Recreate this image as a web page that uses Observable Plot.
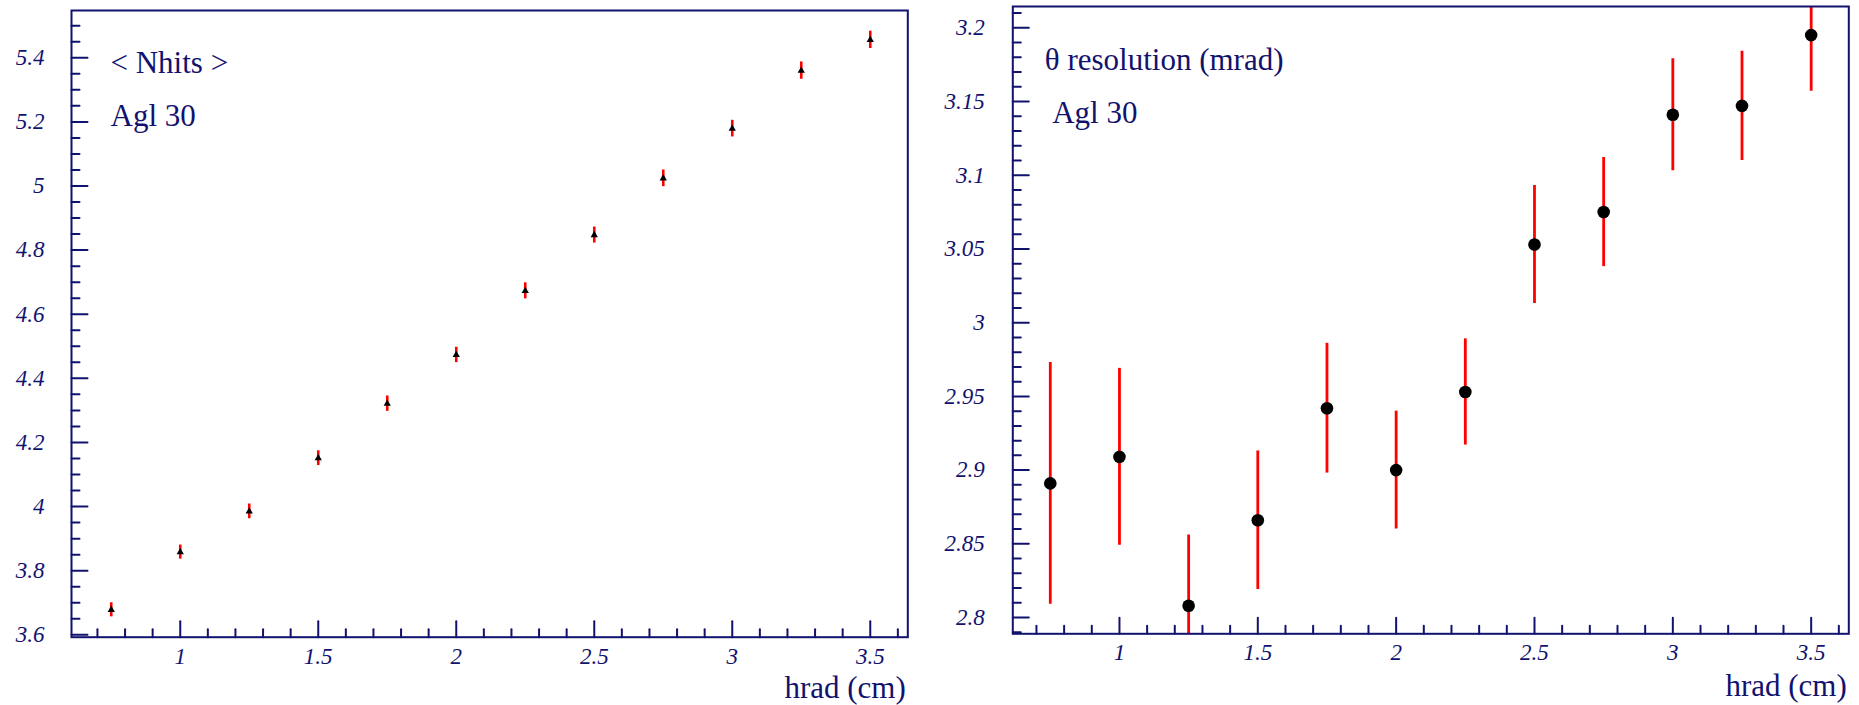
<!DOCTYPE html>
<html>
<head>
<meta charset="utf-8">
<script src="https://cdn.jsdelivr.net/npm/d3@7"></script>
<script src="https://cdn.jsdelivr.net/npm/@observablehq/plot@0.6"></script>
<style>
  html, body { margin: 0; padding: 0; background: #fff; font-family: "Liberation Serif", serif; }
  #wrap { position: relative; width: 1859px; height: 705px; overflow: hidden; }
  #left, #right { position: absolute; top: 0; }
  #left { left: 0; }
  #right { left: 930px; }
  svg.chart text { font-family: "Liberation Serif", serif; white-space: pre; }
</style>
</head>
<body>
<div id="wrap"><div id="left"></div><div id="right"></div></div>
<script>
// ---- data ----
const hrad = [0.75, 1.0, 1.25, 1.5, 1.75, 2.0, 2.25, 2.5, 2.75, 3.0, 3.25, 3.5];
const nhits = [3.678, 3.858, 3.985, 4.151, 4.321, 4.473, 4.673, 4.847, 5.024, 5.179, 5.360, 5.456];
const nhitsErr = [0.022, 0.022, 0.023, 0.023, 0.024, 0.024, 0.025, 0.025, 0.026, 0.026, 0.027, 0.027];
const thetaRes = [2.891, 2.909, 2.808, 2.866, 2.942, 2.900, 2.953, 3.053, 3.075, 3.141, 3.147, 3.195];
const thetaErr = [0.082, 0.060, 0.048, 0.047, 0.044, 0.040, 0.036, 0.040, 0.037, 0.038, 0.037, 0.038];

const xTicks = [1, 1.5, 2, 2.5, 3, 3.5];
const xTickLabels = ["1", "1.5", "2", "2.5", "3", "3.5"];
const yTicksLeft = [3.6, 3.8, 4.0, 4.2, 4.4, 4.6, 4.8, 5.0, 5.2, 5.4];
const yTickLabelsLeft = ["3.6", "3.8", "4", "4.2", "4.4", "4.6", "4.8", "5", "5.2", "5.4"];
const yTicksRight = [2.8, 2.85, 2.9, 2.95, 3.0, 3.05, 3.1, 3.15, 3.2];
const yTickLabelsRight = ["2.8", "2.85", "2.9", "2.95", "3", "3.05", "3.1", "3.15", "3.2"];

const leftTitle = "< Nhits >";
const rightTitle = "\u03b8 resolution (mrad)";
const subTitle = "Agl 30";
const xLabel = "hrad (cm)";

// ---- build ----
const navy = "#12126e";
const serif = "Liberation Serif";
const leftData = hrad.map((x, i) => ({x, y: nhits[i], e: nhitsErr[i]}));
const rightData = hrad.map((x, i) => ({x, y: thetaRes[i], e: thetaErr[i]}));

const tickShape = {draw(ctx, l) { ctx.moveTo(0, 0); ctx.lineTo(0, -l); }};
const round = v => Math.round(v * 1000) / 1000;
const xMinor = d3.range(0.7, 3.65, 0.1).map(round).filter(v => !xTicks.some(t => Math.abs(t - v) < 1e-6));

function ticksMarks(xMaj, xMin, yMaj, yMin) {
  return [
    Plot.vector(xMaj, {x: d => d, frameAnchor: "bottom", length: 16, rotate: 0, anchor: "start", shape: tickShape, stroke: navy, strokeWidth: 2}),
    Plot.vector(xMin, {x: d => d, frameAnchor: "bottom", length: 8, rotate: 0, anchor: "start", shape: tickShape, stroke: navy, strokeWidth: 2}),
    Plot.vector(yMaj, {y: d => d, frameAnchor: "left", length: 16, rotate: 90, anchor: "start", shape: tickShape, stroke: navy, strokeWidth: 2}),
    Plot.vector(yMin, {y: d => d, frameAnchor: "left", length: 8, rotate: 90, anchor: "start", shape: tickShape, stroke: navy, strokeWidth: 2})
  ];
}

const xLabMap = new Map(xTicks.map((t, i) => [t, xTickLabels[i]]));
const yLabMapL = new Map(yTicksLeft.map((t, i) => [t, yTickLabelsLeft[i]]));
const yLabMapR = new Map(yTicksRight.map((t, i) => [t, yTickLabelsRight[i]]));

const baseStyle = {fontFamily: serif, fontSize: "23px", color: navy, background: "transparent", overflow: "visible"};
const tickText = {fontFamily: serif, fontSize: 23, fontStyle: "italic", fill: navy};
const bigText = {fontFamily: serif, fontSize: 31, fontStyle: "normal", fill: navy};

// left panel
const yMinorL = d3.range(3.6, 5.55, 0.05).map(round).filter(v => !yTicksLeft.some(t => Math.abs(t - v) < 1e-6));
const left = Plot.plot({
  width: 930, height: 705,
  marginLeft: 71, marginRight: 22.7, marginTop: 10, marginBottom: 68.3,
  style: baseStyle,
  x: {domain: [0.606, 3.636], axis: null},
  y: {domain: [3.5925, 5.5475], axis: null},
  marks: [
    ...ticksMarks(xTicks, xMinor, yTicksLeft, yMinorL),
    Plot.axisX(xTicks, {tickSize: 0, tickPadding: 10, tickFormat: d => xLabMap.get(d), label: null, ...tickText}),
    Plot.axisY(yTicksLeft, {tickSize: 0, tickPadding: 27, tickFormat: d => yLabMapL.get(d), label: null, ...tickText}),
    Plot.ruleX(leftData, {x: "x", y1: d => d.y - d.e, y2: d => d.y + d.e, stroke: "#ff0000", strokeWidth: 2.6}),
    Plot.dot(leftData, {x: "x", y: "y", symbol: "triangle", r: 2.7, fill: "black", stroke: "none"}),
    Plot.frame({stroke: navy, strokeWidth: 2}),
    Plot.text([leftTitle], {text: d => d, frameAnchor: "top-left", textAnchor: "start", lineAnchor: "bottom", dx: 39, dy: 62, ...bigText}),
    Plot.text([subTitle], {text: d => d, frameAnchor: "top-left", textAnchor: "start", lineAnchor: "bottom", dx: 39, dy: 115, ...bigText}),
    Plot.text([xLabel], {text: d => d, frameAnchor: "bottom-right", textAnchor: "end", lineAnchor: "bottom", dx: -2, dy: 61, ...bigText})
  ]
});
document.getElementById("left").append(left);

// right panel
const yMinorR = d3.range(2.79, 3.215, 0.01).map(round).filter(v => !yTicksRight.some(t => Math.abs(t - v) < 1e-6));
const right = Plot.plot({
  width: 929, height: 705,
  marginLeft: 82.3, marginRight: 10.7, marginTop: 6, marginBottom: 71.7,
  style: baseStyle,
  x: {domain: [0.6145, 3.636], axis: null},
  y: {domain: [2.789, 3.2144], axis: null},
  marks: [
    ...ticksMarks(xTicks, xMinor, yTicksRight, yMinorR),
    Plot.axisX(xTicks, {tickSize: 0, tickPadding: 10, tickFormat: d => xLabMap.get(d), label: null, ...tickText}),
    Plot.axisY(yTicksRight, {tickSize: 0, tickPadding: 28, tickFormat: d => yLabMapR.get(d), label: null, ...tickText}),
    Plot.ruleX(rightData, {x: "x", y1: d => d.y - d.e, y2: d => d.y + d.e, stroke: "#ff0000", strokeWidth: 2.8, clip: true}),
    Plot.dot(rightData, {x: "x", y: "y", r: 6.3, fill: "black", stroke: "none"}),
    Plot.frame({stroke: navy, strokeWidth: 2}),
    Plot.text([rightTitle], {text: d => d, frameAnchor: "top-left", textAnchor: "start", lineAnchor: "bottom", dx: 32, dy: 63, ...bigText}),
    Plot.text([subTitle], {text: d => d, frameAnchor: "top-left", textAnchor: "start", lineAnchor: "bottom", dx: 39.4, dy: 116, ...bigText}),
    Plot.text([xLabel], {text: d => d, frameAnchor: "bottom-right", textAnchor: "end", lineAnchor: "bottom", dx: -2, dy: 62.4, ...bigText})
  ]
});
document.getElementById("right").append(right);

// swap Plot's generated class for our own so the serif face is used
for (const svg of [left, right]) {
  svg.setAttribute("class", "chart");
  svg.setAttribute("font-family", "Liberation Serif");
  for (const t of svg.querySelectorAll("text")) t.setAttribute("font-family", "Liberation Serif");
}
</script>
</body>
</html>
